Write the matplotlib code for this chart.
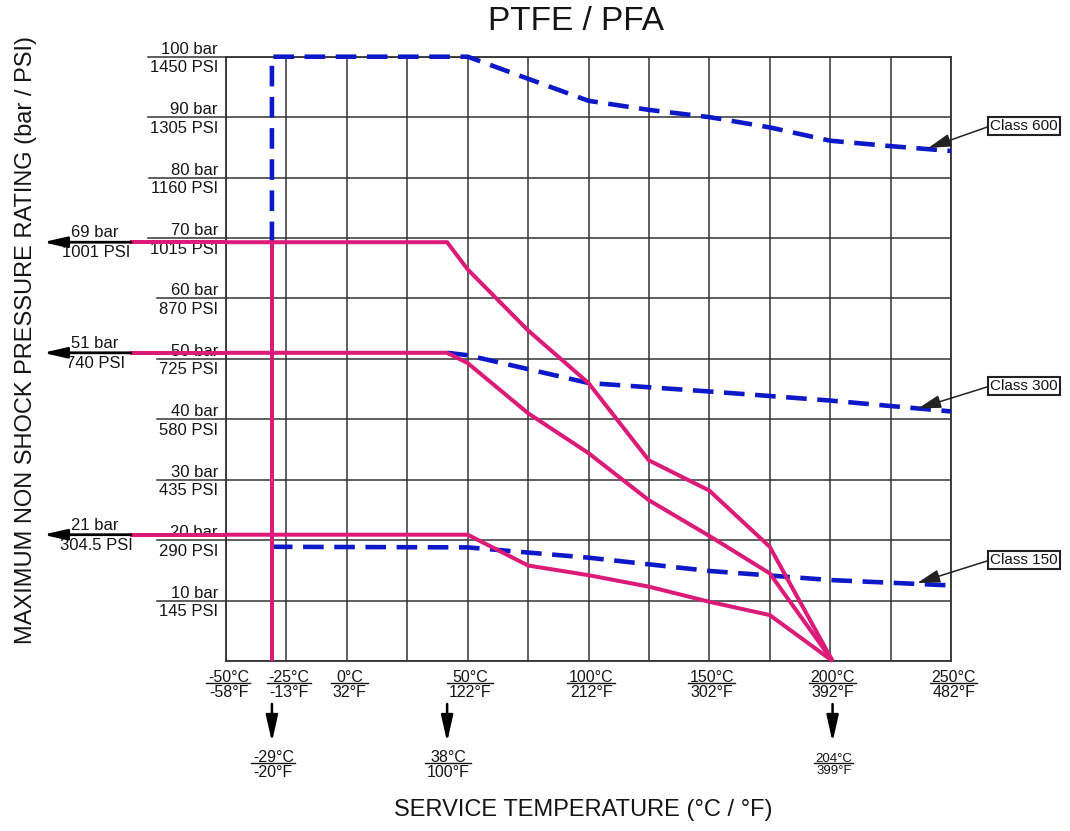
"""
PTFE / PFA seat pressure-temperature chart with ASME class ratings.
"""
import matplotlib
matplotlib.use("Agg")
import matplotlib.pyplot as plt
from matplotlib.lines import Line2D
from matplotlib.transforms import blended_transform_factory

# ---------------------------------------------------------------- colours
BLUE = "#0D18C8"
PINK = "#DC1A78"
GRID = "#333333"
INK = "#151515"

plt.rcParams["font.family"] = ["Liberation Sans", "DejaVu Sans"]

W, H = 1070, 831

# ---------------------------------------------------------------- axis ticks
BAR_TICKS = [10, 20, 30, 40, 50, 60, 70, 80, 90, 100]
PSI_TICKS = ["145", "290", "435", "580", "725", "870", "1015", "1160", "1305", "1450"]
TEMP_C = [-50, -25, 0, 50, 100, 150, 200, 250]
TEMP_F = ["-58°F", "-13°F", "32°F", "122°F", "212°F", "302°F", "392°F", "482°F"]

# ---------------------------------------------------------------- seat ratings (pink)
SEAT_MIN_T = -31          # drawn position of the -29°C limit
SEAT_MAX_P = 69.3
A_T = [-50, 41.5, 50, 75, 100, 125, 150, 175, 201]
A_P = [69.3, 69.3, 64.8, 54.7, 46.0, 33.2, 28.2, 18.9, 0]
B_T = [-50, 41.5, 50, 75, 100, 125, 150, 175, 201]
B_P = [51.0, 51.0, 49.3, 41.0, 34.4, 26.6, 20.7, 14.5, 0]
C_T = [-50, 50, 75, 100, 125, 150, 175, 201]
C_P = [20.9, 20.9, 15.8, 14.2, 12.3, 9.8, 7.6, 0]

# ---------------------------------------------------------------- ASME classes (blue dashed)
C600_T = [-31, -31, 50, 100, 125, 150, 175, 200, 225, 250]
C600_P = [69.3, 100, 100, 92.7, 91.2, 90.0, 88.3, 86.1, 85.2, 84.4]
C300_T = [41.5, 50, 100, 150, 200, 250]
C300_P = [51.0, 50.6, 46.0, 44.6, 43.1, 41.3]
C150_T = [-31, 50, 100, 150, 200, 250]
C150_P = [18.9, 18.8, 17.1, 14.9, 13.4, 12.5]

CLASS_NAMES = ["Class 600", "Class 300", "Class 150"]
CLASS_TIP_T = [240.6, 236.4, 236.0]
CLASS_TIP_P = [84.9, 41.8, 12.9]
CLASS_BOX_Y = [126, 386, 560]   # px from top

# left call-outs
SEAT_BAR = ["69 bar", "51 bar", "21 bar"]
SEAT_PSI = ["1001 PSI", "740 PSI", "304.5 PSI"]
SEAT_LEVEL = [69.3, 51.0, 20.9]

# bottom temperature limit call-outs
LIMIT_T = [-31, 41.5, 201]
LIMIT_C = ["-29°C", "38°C", "204°C"]
LIMIT_F = ["-20°F", "100°F", "399°F"]
LIMIT_FS = [11.5, 11.5, 9.5]


def fx(px):
    return px / W


def fy(py):
    return 1 - py / H


fig = plt.figure(figsize=(W / 100, H / 100), dpi=100)
ax = fig.add_axes([fx(226), fy(661), (951 - 226) / W, (661 - 56.7) / H])
ax.set_xlim(-50, 250)
ax.set_ylim(0, 100)
ax.set_xticks(range(-50, 251, 25))
ax.set_yticks(range(0, 101, 10))
ax.tick_params(length=0, labelbottom=False, labelleft=False)
ax.grid(True, color=GRID, linewidth=1.1)
ax.set_axisbelow(True)
for sp in ax.spines.values():
    sp.set_color(GRID)
    sp.set_linewidth(1.3)

bx = blended_transform_factory(ax.transData, fig.transFigure)   # x data, y figure
by = blended_transform_factory(fig.transFigure, ax.transData)   # x figure, y data

# ---------------------------------------------------------------- curves
dash = dict(color=BLUE, linewidth=3.3, linestyle=(0, (4.5, 2.3)), zorder=3,
            clip_on=False, dash_capstyle="butt", dash_joinstyle="round")
ax.plot(C600_T, C600_P, **dash)
ax.plot(C300_T, C300_P, **dash)
ax.plot(C150_T, C150_P, **dash)

solid = dict(color=PINK, linewidth=2.9, zorder=4, clip_on=False,
             solid_capstyle="butt", solid_joinstyle="round")
ax.plot(A_T, A_P, **solid)
ax.plot(B_T, B_P, **solid)
ax.plot(C_T, C_P, **solid)
ax.plot([SEAT_MIN_T, SEAT_MIN_T], [0, SEAT_MAX_P], **solid)

# left extensions + arrows
for lvl, tb, tp in zip(SEAT_LEVEL, SEAT_BAR, SEAT_PSI):
    ax.plot([fx(130), fx(226)], [lvl, lvl], transform=by, **solid)
    ax.annotate("", xy=(fx(43), lvl), xycoords=by, xytext=(fx(131), lvl), textcoords=by,
                arrowprops=dict(arrowstyle="-|>,head_length=0.7,head_width=0.16",
                                color="black", lw=2.0, shrinkA=0, shrinkB=0,
                                mutation_scale=20),
                annotation_clip=False, zorder=5)
    ax.annotate(tb, xy=(fx(95), lvl), xycoords=by, xytext=(0, 3.6),
                textcoords="offset points", ha="center", va="baseline",
                fontsize=12, color=INK, annotation_clip=False)
    ax.annotate(tp, xy=(fx(96), lvl), xycoords=by, xytext=(0, -2.2),
                textcoords="offset points", ha="center", va="top",
                fontsize=12, color=INK, annotation_clip=False)

# ---------------------------------------------------------------- stacked labels
stacks = []   # (top, bottom, transform, anchor, extend-to-axes flag)


def stacked(x, y, top, bottom, trans, fs, ha, dx, gt, gb, to_axes=False):
    t1 = ax.annotate(top, xy=(x, y), xycoords=trans, xytext=(dx, gt),
                     textcoords="offset points", ha=ha, va="baseline",
                     fontsize=fs, color=INK, annotation_clip=False, zorder=2)
    t2 = ax.annotate(bottom, xy=(x, y), xycoords=trans, xytext=(dx, -gb),
                     textcoords="offset points", ha=ha, va="top",
                     fontsize=fs, color=INK, annotation_clip=False, zorder=2)
    stacks.append((t1, t2, trans, (x, y), to_axes))


for b, psi in zip(BAR_TICKS, PSI_TICKS):
    stacked(fx(218), b, f"{b} bar", f"{psi} PSI", by, 12, "right", 0, 2.2, 2.6,
            to_axes=True)

for tc, tf in zip(TEMP_C, TEMP_F):
    stacked(tc, fy(683), f"{tc}°C", tf, bx, 11.5, "center", 2, 1.0, 1.2)

for tl, lc, lf, fs in zip(LIMIT_T, LIMIT_C, LIMIT_F, LIMIT_FS):
    stacked(tl, fy(763), lc, lf, bx, fs, "center", 1, 1.0, 1.2)
    ax.annotate("", xy=(tl, fy(742)), xycoords=bx, xytext=(tl, fy(704)), textcoords=bx,
                arrowprops=dict(arrowstyle="-|>,head_length=0.8,head_width=0.18",
                                color="black", lw=1.8, shrinkA=0, shrinkB=0,
                                mutation_scale=20),
                annotation_clip=False)

# ---------------------------------------------------------------- class call-outs
for name, tt, tp, by_px in zip(CLASS_NAMES, CLASS_TIP_T, CLASS_TIP_P, CLASS_BOX_Y):
    ax.annotate(name, xy=(tt, tp), xycoords="data",
                xytext=(fx(1024), fy(by_px)), textcoords="figure fraction",
                ha="center", va="center", fontsize=11, color=INK,
                bbox=dict(boxstyle="square,pad=0.12", fc="white", ec="#222222", lw=1.5),
                arrowprops=dict(arrowstyle="-|>,head_length=0.7,head_width=0.2",
                                color="#222222", lw=1.1, shrinkA=0, shrinkB=0,
                                relpos=(0, 0.5), mutation_scale=20),
                annotation_clip=False, zorder=6)

# ---------------------------------------------------------------- titles
fig.text(fx(576), fy(21), "PTFE / PFA", ha="center", va="center", fontsize=24, color=INK)
fig.text(fx(583), fy(810), "SERVICE TEMPERATURE (°C / °F)", ha="center", va="center",
         fontsize=17, color=INK)
fig.text(fx(26), fy(340), "MAXIMUM NON SHOCK PRESSURE RATING (bar / PSI)",
         ha="center", va="center", rotation=90, fontsize=17, color=INK)

# ---------------------------------------------------------------- fraction lines
fig.canvas.draw()
r = fig.canvas.get_renderer()
inv = fig.transFigure.inverted()
ax_left = ax.transAxes.transform((0, 0))[0]
for t1, t2, trans, xy, to_axes in stacks:
    e1 = t1.get_window_extent(r)
    e2 = t2.get_window_extent(r)
    x0 = min(e1.x0, e2.x0) - 2
    x1 = ax_left if to_axes else max(e1.x1, e2.x1) + 1
    yl = trans.transform(xy)[1]
    (fx0, fy0), (fx1, _) = inv.transform([(x0, yl), (x1, yl)])
    ax.add_line(Line2D([fx0, fx1], [fy0, fy0], transform=fig.transFigure,
                       color=GRID if to_axes else INK,
                       lw=1.1 if to_axes else 1.0, clip_on=False, zorder=1))

fig.savefig("out.png", dpi=100)
